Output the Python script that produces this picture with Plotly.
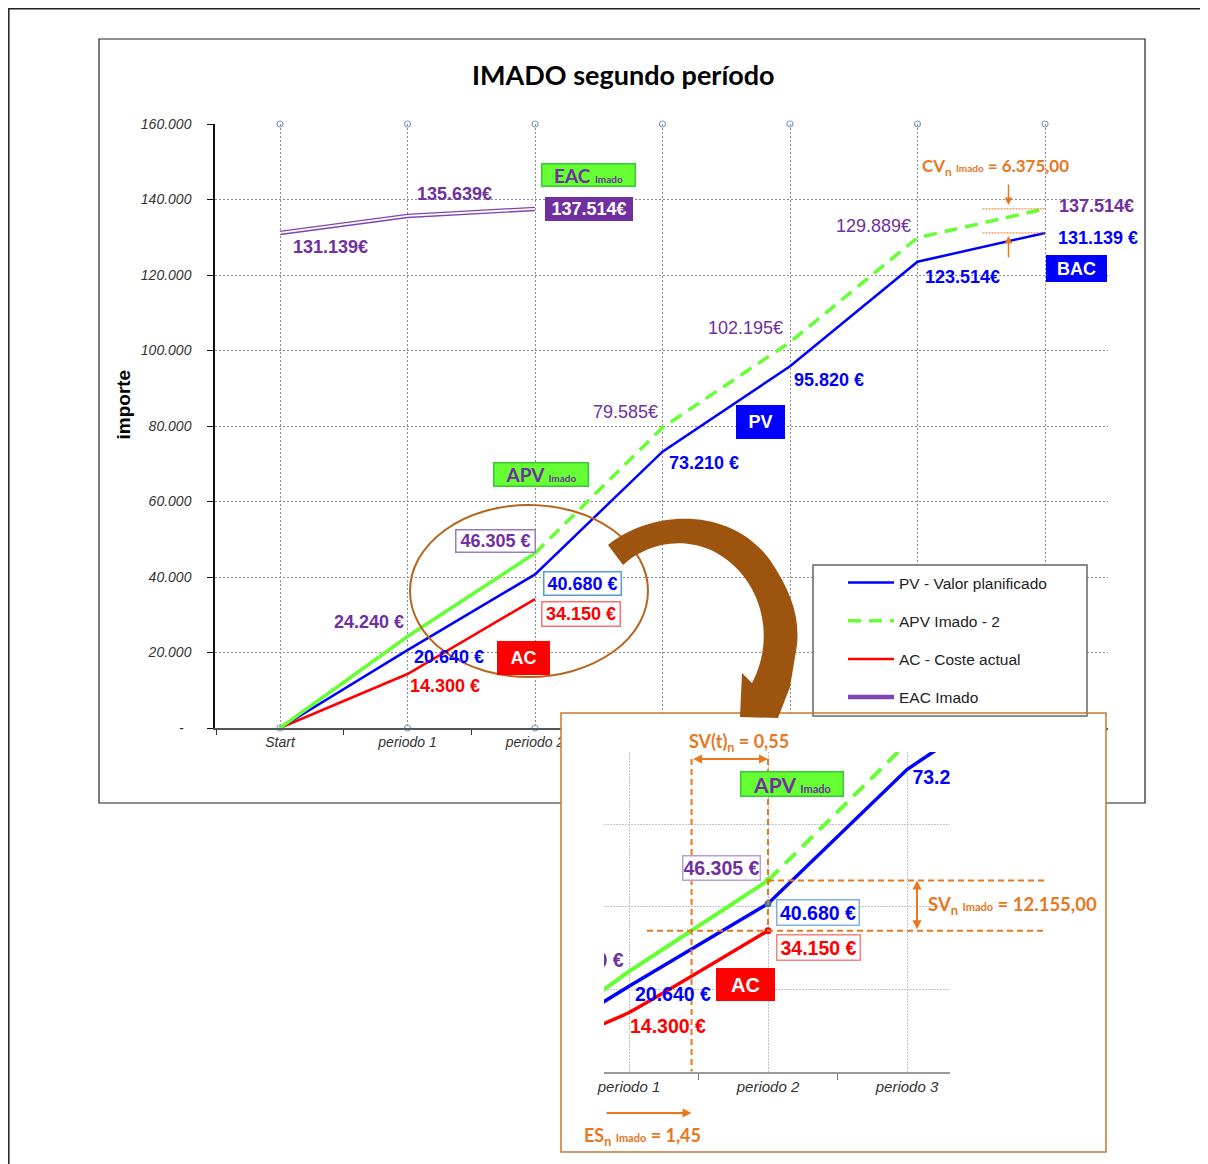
import plotly.graph_objects as go

W, H = 1208, 1164
OFF = 8  # the page body margin shifts the figure by 8 px

categories = ['Start', 'periodo 1', 'periodo 2', 'periodo 3', 'periodo 4', 'periodo 5', 'periodo 6']
pv = [0, 20640, 40680, 73210, 95820, 123514, 131139]
apv = [0, 24240, 46305, 79585, 102195, 129889, 137514]
ac = [0, 14300, 34150]
eac = [131139, 135639, 137514]
y_ticks = [0, 20000, 40000, 60000, 80000, 100000, 120000, 140000, 160000]
y_ticktext = ['-\u00a0\u00a0', '20.000', '40.000', '60.000', '80.000', '100.000', '120.000', '140.000', '160.000']
es_imado = 1.45
sv_t = '0,55'
sv_n = '12.155,00'
cv_n = '6.375,00'

BLUE = '#0000ff'
GREEN = '#66ff33'
RED = '#ff0000'
PURPLE = '#7030a0'
ORANGE = '#e8771e'
BROWN = '#b5651d'
ARIAL = 'Liberation Sans, Arial'
CALIBRI = 'Lato, Open Sans'


def px(x):
    return (x - OFF) / W


def py(y):
    return 1 - (y - OFF) / H


# inset (zoomed) mapping: category 1 at pixel 629, 139 px per category; value 0 at pixel 1071.5, 4.125 px per 1000
def ins_x(pix):
    return 1 + (pix - 629) / 139.0


def ins_y(pix):
    return (1071.5 - pix) / 0.004125


def eur(v, sep=''):
    return f'{v:,}'.replace(',', '.') + sep + '€'


fig = go.Figure()
idx = list(range(len(categories)))

# ---------- main chart ----------
fig.add_trace(go.Scatter(x=idx + idx, y=[y_ticks[-1]] * 7 + [0] * 7, mode='markers', showlegend=False,
                         hoverinfo='skip', cliponaxis=False,
                         marker=dict(symbol='circle-open', size=6, color='#7f9fbf', line=dict(width=1.2))))
fig.add_trace(go.Scatter(x=idx[:3], y=eac, mode='lines', name='EAC Imado', legendgroup='eac', legendrank=4,
                         line=dict(color='#7f45b5', width=4.5)))
fig.add_trace(go.Scatter(x=idx[:3], y=eac, mode='lines', showlegend=False, legendgroup='eac', hoverinfo='skip',
                         line=dict(color='white', width=1.8)))
fig.add_trace(go.Scatter(x=idx[:3], y=ac, mode='lines', name='AC - Coste actual', legendgroup='ac', legendrank=3,
                         line=dict(color=RED, width=2.5)))
fig.add_trace(go.Scatter(x=idx, y=pv, mode='lines', name='PV - Valor planificado', legendgroup='pv', legendrank=1,
                         line=dict(color=BLUE, width=2.5)))
fig.add_trace(go.Scatter(x=idx[:3], y=apv[:3], mode='lines', showlegend=False, legendgroup='apv',
                         line=dict(color=GREEN, width=3.5)))
fig.add_trace(go.Scatter(x=idx[2:], y=apv[2:], mode='lines', name='APV Imado - 2', legendgroup='apv', legendrank=2,
                         line=dict(color=GREEN, width=3.5, dash='13px,8px')))

# ---------- inset: dummy trace for the background subplot ----------
fig.add_trace(go.Scatter(x=[], y=[], xaxis='x2', yaxis='y2', showlegend=False, hoverinfo='skip'))

# ---------- inset traces ----------
fig.add_trace(go.Scatter(x=idx[:3], y=ac, mode='lines', xaxis='x3', yaxis='y3', showlegend=False,
                         line=dict(color=RED, width=3.5, shape='spline', smoothing=0.3)))
fig.add_trace(go.Scatter(x=idx, y=pv, mode='lines', xaxis='x3', yaxis='y3', showlegend=False,
                         line=dict(color=BLUE, width=3.5)))
fig.add_trace(go.Scatter(x=idx[:3], y=apv[:3], mode='lines', xaxis='x3', yaxis='y3', showlegend=False,
                         line=dict(color=GREEN, width=4)))
fig.add_trace(go.Scatter(x=idx[2:], y=apv[2:], mode='lines', xaxis='x3', yaxis='y3', showlegend=False,
                         line=dict(color=GREEN, width=4, dash='15px,9px')))
fig.add_trace(go.Scatter(x=[2, 2, 2], y=[apv[2], pv[2], ac[2]], mode='markers', xaxis='x3', yaxis='y3',
                         showlegend=False, marker=dict(size=7, color=[GREEN, '#2e75b6', RED])))
fig.add_trace(go.Scatter(x=[1], y=[apv[1]], mode='text', xaxis='x3', yaxis='y3', showlegend=False,
                         text=['<b>' + eur(apv[1], ' ') + '\u00a0</b>'], textposition='top left',
                         textfont=dict(family=ARIAL, size=19.5, color=PURPLE)))
fig.add_trace(go.Scatter(x=[3], y=[pv[3]], mode='text', xaxis='x3', yaxis='y3', showlegend=False,
                         text=['<b>\u00a0' + eur(pv[3], ' ') + '</b>'], textposition='bottom right',
                         textfont=dict(family=ARIAL, size=19.5, color=BLUE)))

ann = []


def label(text, x, y, dx, dy, color, size=18, bold=True, box=None, fill=None, xref='x', yref='y',
          w=None, h=None, family=ARIAL, xanchor='center'):
    a = dict(x=x, y=y, xref=xref, yref=yref, xshift=dx, yshift=dy, showarrow=False,
             text=('<b>' + text + '</b>') if bold else text,
             font=dict(family=family, size=size, color=color), xanchor=xanchor, yanchor='middle')
    if box or fill:
        a.update(bordercolor=box or fill, borderwidth=1.5 if box else 0, bgcolor=fill or 'white', borderpad=0)
        if w:
            a.update(width=w, height=h)
    ann.append(a)


imado = "<span style='font-size:10px'>Imado</span>"
imado11 = "<span style='font-size:11px'>Imado</span>"

# main chart labels (shifts in px from the data point)
label(eur(eac[0]), 0, eac[0], 50, -14, PURPLE)
label(eur(eac[1]), 1, eac[1], 47, 22, PURPLE)
label('EAC ' + imado, 2, eac[2], 53, 34, PURPLE, size=19, fill=GREEN, box='#33cc33', w=92, h=21, family=CALIBRI)
label(eur(eac[2]), 2, eac[2], 54, 0, 'white', fill=PURPLE, w=88, h=24)
label(eur(apv[5]), 5, apv[5], -44, 12, PURPLE, bold=False)
label(eur(apv[6]), 6, apv[6], 51, 3, PURPLE)
label(eur(pv[6], ' '), 6, pv[6], 53, -5, BLUE)
label('BAC', 6, pv[6], 31, -36, 'white', fill=BLUE, w=61, h=27)
label(eur(pv[5]), 5, pv[5], 45, -15, BLUE)
label(eur(apv[4]), 4, apv[4], -45, 14, PURPLE, bold=False)
label(eur(pv[4], ' '), 4, pv[4], 39, -14, BLUE)
label(eur(apv[3]), 3, apv[3], -37, 16, PURPLE, bold=False)
label('PV', 4, pv[4], -30, -56, 'white', fill=BLUE, w=49, h=34)
label(eur(pv[3], ' '), 3, pv[3], 41, -11, BLUE)
label('APV ' + imado, 2, apv[2], 6, 79, PURPLE, size=19, fill=GREEN, box='#33cc33', w=93, h=22, family=CALIBRI)
label(eur(apv[2], ' '), 2, apv[2], -40, 12, PURPLE, box='#9b7bc0', w=78, h=21)
label(eur(pv[2], ' '), 2, pv[2], 47, -9, BLUE, box='#5b9bd5', w=76, h=22)
label(eur(ac[2], ' '), 2, ac[2], 46, -15, RED, box='#ff6f6f', w=77, h=23)
label(eur(apv[1], ' '), 1, apv[1], -39, 14, PURPLE)
label(eur(pv[1], ' '), 1, pv[1], 41, -7, BLUE)
label('AC', 2, ac[2], -12, -59, 'white', fill=RED, w=53, h=34)
label(eur(ac[1], ' '), 1, ac[1], 37, -12, RED)

# CV annotation (main chart)
cv_x = 5 + (1008 - 917) / 127.5
label('CV<sub>n</sub> ' + imado + ' = ' + cv_n, 6, apv[6], -50, 42, ORANGE, size=17, family=CALIBRI)
ann.append(dict(x=cv_x, y=apv[6], xref='x', yref='y', ax=0, ay=-26, showarrow=True, arrowhead=2,
                arrowsize=1, arrowwidth=1.5, arrowcolor=ORANGE, standoff=4, text=''))
ann.append(dict(x=cv_x, y=pv[6], xref='x', yref='y', ax=0, ay=26, showarrow=True, arrowhead=2,
                arrowsize=1, arrowwidth=1.5, arrowcolor=ORANGE, standoff=3, text=''))

# title and axis title
ann.append(dict(x=px(623), y=y_ticks[-1], xref='paper', yref='y', yshift=49, showarrow=False,
                text='<b>IMADO segundo período</b>', font=dict(family=CALIBRI, size=27, color='black')))
ann.append(dict(x=px(110), y=py(405), xref='paper', yref='paper', showarrow=False, textangle=-90,
                text='<b>importe</b>', font=dict(family=ARIAL, size=19, color='black')))

# inset labels
label(eur(apv[2], ' '), 2, apv[2], -47, 12, PURPLE, size=19.5, box='#b79fd6', w=76, h=23, xref='x2', yref='y2')
label(eur(pv[2], ' '), 2, pv[2], 50, -9, BLUE, size=19.5, box='#7fb2e5', w=81, h=24, xref='x2', yref='y2')
label(eur(ac[2], ' '), 2, ac[2], 50, -17, RED, size=19.5, box='#ff8080', w=82, h=24, xref='x2', yref='y2')
label(eur(pv[1], ' '), 1, pv[1], 44, -8, BLUE, size=19.5, xref='x2', yref='y2')
label(eur(ac[1], ' '), 1, ac[1], 39, -13, RED, size=19.5, xref='x2', yref='y2')
label('AC', 2, ac[2], -23, -54, 'white', size=20, fill=RED, w=59, h=33, xref='x2', yref='y2')
label('APV ' + imado11, 2, apv[2], 24, 96, PURPLE, size=21, fill=GREEN, box='#33cc33', w=101, h=23,
      xref='x2', yref='y2', family=CALIBRI)

svt_y = ins_y(759)
svn_x = ins_x(917)
es_y = ins_y(1113)
label('SV(t)<sub>n</sub> = ' + sv_t, (es_imado + 2) / 2, svt_y, 9, 17, ORANGE, size=18, xref='x2', yref='y2',
      family=CALIBRI)
ann.append(dict(x=2, y=svt_y, ax=es_imado, ay=svt_y, xref='x2', yref='y2', axref='x2', ayref='y2',
                showarrow=True, arrowhead=2, arrowside='end+start', arrowwidth=2, arrowsize=0.9,
                arrowcolor=ORANGE, standoff=0, startstandoff=0, text=''))
label('SV<sub>n</sub> ' + imado11 + ' = ' + sv_n, svn_x, (apv[2] + ac[2]) / 2, 9, 0, ORANGE, size=18.5,
      xref='x2', yref='y2', family=CALIBRI, xanchor='left')
ann.append(dict(x=svn_x, y=apv[2], ax=svn_x, ay=ac[2], xref='x2', yref='y2', axref='x2', ayref='y2',
                showarrow=True, arrowhead=2, arrowside='end+start', arrowwidth=2, arrowsize=0.9,
                arrowcolor=ORANGE, standoff=0, startstandoff=0, text=''))
ann.append(dict(x=es_imado, y=es_y, ax=ins_x(605), ay=es_y, xref='x2', yref='y2',
                axref='x2', ayref='y2', showarrow=True, arrowhead=2, arrowwidth=2, arrowsize=0.9,
                arrowcolor=ORANGE, standoff=0, text=''))
label('ES<sub>n</sub> ' + imado11 + ' = ' + f'{es_imado:.2f}'.replace('.', ','), ins_x(642), es_y, 0, -23,
      ORANGE, size=18, xref='x2', yref='y2', family=CALIBRI)

shapes = []
# frames
shapes.append(dict(type='rect', xref='paper', yref='paper', x0=px(8.8), x1=px(1230), y0=py(8.8), y1=py(1190),
                   line=dict(color='#222', width=1.5), layer='below'))
shapes.append(dict(type='rect', xref='paper', yref='paper', x0=px(99), x1=px(1145), y0=py(39), y1=py(803),
                   line=dict(color='#222', width=1.2), layer='below'))
# CV reference lines
for v in (apv[6], pv[6]):
    shapes.append(dict(type='line', xref='x', yref='y', x0=5.51, x1=6, y0=v, y1=v,
                       line=dict(color=ORANGE, width=1, dash='2px,1px')))
# legend box
shapes.append(dict(type='rect', xref='paper', yref='paper', x0=px(813), x1=px(1087), y0=py(565), y1=py(716),
                   fillcolor='white', line=dict(color='#666', width=1.5), layer='above'))
# ellipse
shapes.append(dict(type='circle', xref='paper', yref='paper', x0=px(410), x1=px(648), y0=py(505), y1=py(677),
                   line=dict(color=BROWN, width=2)))
# inset background (subplot x2y2, so it covers the main chart but stays under the inset traces)
x2_range = [ins_x(561), ins_x(1106)]
y2_range = [ins_y(1152), ins_y(713)]
shapes.append(dict(type='rect', xref='x2', yref='y2', x0=x2_range[0], x1=x2_range[1], y0=y2_range[0],
                   y1=y2_range[1], fillcolor='white', line=dict(width=0), layer='below'))
# inset dashed guides
dash_line = dict(color=ORANGE, width=2, dash='6px,4px')
shapes.append(dict(type='line', xref='x2', yref='y2', x0=es_imado, x1=es_imado, y0=svt_y, y1=0, line=dash_line))
shapes.append(dict(type='line', xref='x2', yref='y2', x0=2, x1=2, y0=svt_y, y1=ac[2], line=dash_line))
shapes.append(dict(type='line', xref='x2', yref='y2', x0=2, x1=ins_x(1044), y0=apv[2], y1=apv[2], line=dash_line))
shapes.append(dict(type='line', xref='x2', yref='y2', x0=ins_x(647), x1=ins_x(1044), y0=ac[2], y1=ac[2],
                   line=dash_line))
# inset border
shapes.append(dict(type='rect', xref='paper', yref='paper', x0=px(561), x1=px(1106), y0=py(713), y1=py(1152),
                   line=dict(color='#c8782e', width=1.5), layer='above'))

# curved arrow from the ellipse to the inset
pts = ['M', (608, 545), 'C', (650, 510), (730, 505), (770, 560), 'C', (790, 590), (800, 615), (797, 645),
       'L', (790, 687), 'L', (778, 718), 'L', (740, 717), 'L', (742, 673), 'L', (752, 683),
       'C', (775, 640), (765, 580), (715, 552), 'C', (680, 535), (645, 545), (623, 565), 'Z']
path = ' '.join(p if isinstance(p, str) else f'{px(p[0]):.5f},{py(p[1]):.5f}' for p in pts)
shapes.append(dict(type='path', xref='paper', yref='paper', path=path, fillcolor='#9c540e',
                   line=dict(width=0), layer='above'))

tick_font = dict(family=ARIAL, size=14, color='#333', style='italic')
ins_tick_font = dict(family=ARIAL, size=15, color='#333', style='italic')

fig.update_layout(
    width=W, height=H, margin=dict(l=0, r=0, t=0, b=0),
    paper_bgcolor='white', plot_bgcolor='white',
    annotations=ann, shapes=shapes,
    showlegend=True,
    legend=dict(x=px(843), y=py(566), xanchor='left', yanchor='top', bgcolor='rgba(0,0,0,0)',
                font=dict(family=ARIAL, size=15.5, color='#222'), tracegroupgap=15, itemwidth=46,
                traceorder='grouped'),
    xaxis=dict(domain=[px(215), px(1108)], range=[-0.51, 6.494], tickvals=idx, ticktext=categories,
               ticks='', showline=True, linecolor='#555', linewidth=1.5, tickfont=tick_font,
               showgrid=True, gridcolor='#8c8c8c', griddash='2px,2px', gridwidth=1, zeroline=False,
               minor=dict(tickmode='array', tickvals=[k - 0.5 for k in range(8)], ticks='outside', ticklen=5,
                          tickcolor='#333', showgrid=False),
               anchor='y', fixedrange=True, automargin=False),
    yaxis=dict(domain=[py(728), py(124)], range=[0, 160000], tickvals=y_ticks, ticktext=y_ticktext,
               ticks='outside', ticklen=6, tickcolor='#111', showline=True, linecolor='#111', linewidth=1.5,
               tickfont=tick_font, ticklabelstandoff=13, showgrid=True, gridcolor='#8c8c8c',
               griddash='2px,2px', gridwidth=1, zeroline=False, anchor='x', fixedrange=True, automargin=False),
    xaxis2=dict(domain=[px(561), px(1106)], range=x2_range, visible=False, anchor='y2', fixedrange=True),
    yaxis2=dict(domain=[py(1152), py(713)], range=y2_range, visible=False, anchor='x2', fixedrange=True),
    xaxis3=dict(domain=[px(604), px(950)], range=[ins_x(604), ins_x(950)], tickvals=[1, 2, 3],
                ticktext=categories[1:4], ticks='', showline=True, linecolor='#9a9a9a', linewidth=2,
                tickfont=ins_tick_font, showgrid=True, gridcolor='#c4c4c4', griddash='2px,1px', zeroline=False,
                minor=dict(tickmode='array', tickvals=[1.5, 2.5], ticks='outside', ticklen=6,
                           tickcolor='#777', showgrid=False),
                anchor='y3', fixedrange=True, automargin=False),
    yaxis3=dict(domain=[py(1071.5), py(752)], range=[0, ins_y(752)], tickvals=[20000, 40000, 60000],
                showticklabels=False, ticks='', showline=False, showgrid=True, gridcolor='#c4c4c4',
                griddash='2px,1px', zeroline=False, anchor='x3', fixedrange=True, automargin=False),
)

fig.write_html('out.html')
